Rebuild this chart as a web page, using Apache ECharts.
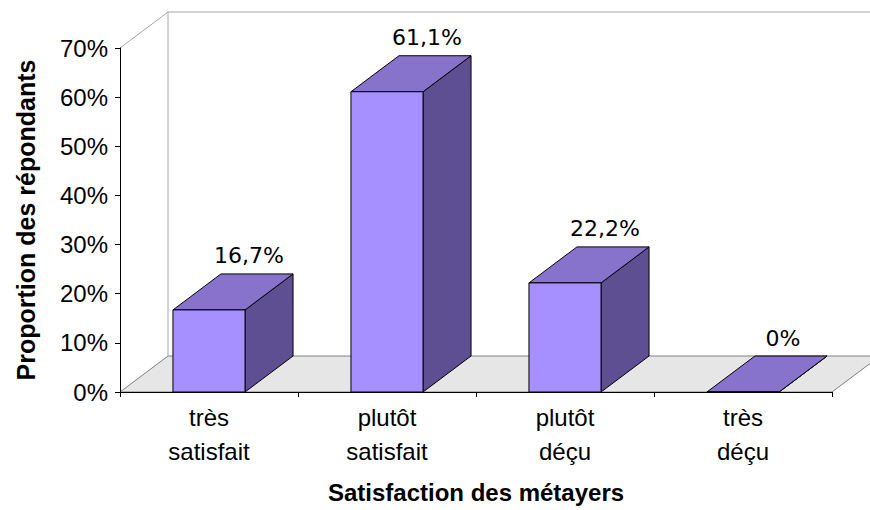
<!DOCTYPE html>
<html>
<head>
<meta charset="utf-8">
<script src="https://cdn.jsdelivr.net/npm/echarts@6/dist/echarts.min.js"></script>
<style>
  html, body { margin: 0; padding: 0; background: #fff; }
  #chart { width: 870px; height: 510px; }
</style>
</head>
<body>
<div id="chart"></div>
<script>
  // data
  const categories = ['très satisfait', 'plutôt satisfait', 'plutôt déçu', 'très déçu'];
  const shares = [16.7, 61.1, 22.2, 0];
  const yTicks = [0, 10, 20, 30, 40, 50, 60, 70];

  // 3d look
  const DX = 48;
  const DY = 36;
  const BAR_RATIO = 0.405;
  const FRONT = '#a690ff';
  const TOP = '#8873cc';
  const SIDE = '#5e4f92';

  function fmt(v) {
    return v === 0 ? '0%' : v.toFixed(1).replace('.', ',') + '%';
  }

  function renderFrame(params, api) {
    const band = api.size([1, 0])[0];
    const left = api.coord([0, 0])[0] - band / 2;
    const right = api.coord([categories.length - 1, 0])[0] + band / 2;
    const y0 = api.coord([0, yTicks[0]])[1];
    const yTop = api.coord([0, yTicks[yTicks.length - 1]])[1];
    const wall = { stroke: '#a6a6a6', lineWidth: 1 };
    return {
      type: 'group',
      children: [
        {
          type: 'polygon',
          shape: { points: [[left, y0], [left + DX, y0 - DY], [right + DX, y0 - DY], [right, y0]] },
          style: { fill: '#e6e6e6', stroke: '#808080', lineWidth: 1 },
        },
        { type: 'line', shape: { x1: left + DX, y1: y0 - DY, x2: left + DX, y2: yTop - DY }, style: wall },
        { type: 'line', shape: { x1: left + DX, y1: yTop - DY, x2: right + DX, y2: yTop - DY }, style: wall },
        { type: 'line', shape: { x1: left, y1: yTop, x2: left + DX, y2: yTop - DY }, style: wall },
      ],
    };
  }

  function renderBar(params, api) {
    const i = api.value(0);
    const v = api.value(1);
    const top = api.coord([i, v]);
    const base = api.coord([i, 0]);
    const w = api.size([1, 0])[0] * BAR_RATIO;
    const x1 = top[0] - w / 2;
    const x2 = top[0] + w / 2;
    const yt = top[1];
    const yb = base[1];
    const edge = { stroke: '#000', lineWidth: 1, lineJoin: 'round' };
    return {
      type: 'group',
      children: [
        {
          type: 'polygon',
          shape: { points: [[x2, yt], [x2 + DX, yt - DY], [x2 + DX, yb - DY], [x2, yb]] },
          style: Object.assign({ fill: SIDE }, edge),
        },
        {
          type: 'polygon',
          shape: { points: [[x1, yt], [x1 + DX, yt - DY], [x2 + DX, yt - DY], [x2, yt]] },
          style: Object.assign({ fill: TOP }, edge),
        },
        {
          type: 'rect',
          shape: { x: x1, y: yt, width: w, height: yb - yt },
          style: Object.assign({ fill: FRONT }, edge),
        },
        {
          type: 'text',
          x: top[0] + 40,
          y: yt - DY - 18,
          style: {
            text: fmt(v),
            fill: '#000',
            font: '22px "DejaVu Sans"',
            align: 'center',
            verticalAlign: 'middle',
          },
        },
      ],
    };
  }

  const chart = echarts.init(document.getElementById('chart'), null, { renderer: 'svg' });
  chart.setOption({
    animation: false,
    backgroundColor: '#fff',
    grid: { left: 120, right: 38, top: 48, bottom: 118 },
    xAxis: {
      type: 'category',
      data: categories,
      z: 10,
      axisLine: { lineStyle: { color: '#000', width: 1 } },
      axisTick: { show: true, length: 5, lineStyle: { color: '#000' } },
      axisLabel: {
        interval: 0,
        margin: 8,
        color: '#000',
        fontFamily: 'Liberation Sans',
        fontSize: 24,
        lineHeight: 34,
        formatter: (s) => s.replace(' ', '\n'),
      },
      name: 'Satisfaction des métayers',
      nameLocation: 'middle',
      nameGap: 88,
      nameTextStyle: { color: '#000', fontFamily: 'Liberation Sans', fontSize: 24, fontWeight: 'bold' },
    },
    yAxis: {
      type: 'value',
      min: yTicks[0],
      max: yTicks[yTicks.length - 1],
      interval: yTicks[1] - yTicks[0],
      z: 10,
      axisLine: { show: true, lineStyle: { color: '#000', width: 1 } },
      axisTick: { show: true, length: 5, lineStyle: { color: '#000' } },
      splitLine: { show: false },
      axisLabel: {
        margin: 12,
        color: '#000',
        fontFamily: 'Liberation Sans',
        fontSize: 24,
        formatter: '{value}%',
      },
      name: 'Proportion des répondants',
      nameLocation: 'middle',
      nameGap: 82,
      nameRotate: 90,
      nameTextStyle: { color: '#000', fontFamily: 'Liberation Sans', fontSize: 25, fontWeight: 'bold' },
    },
    series: [
      {
        type: 'custom',
        z: 1,
        silent: true,
        renderItem: renderFrame,
        data: [[0, 0]],
      },
      {
        type: 'custom',
        z: 2,
        renderItem: renderBar,
        data: shares.map((v, i) => [i, v]),
      },
    ],
  });
  window.addEventListener('resize', () => chart.resize());
</script>
</body>
</html>
